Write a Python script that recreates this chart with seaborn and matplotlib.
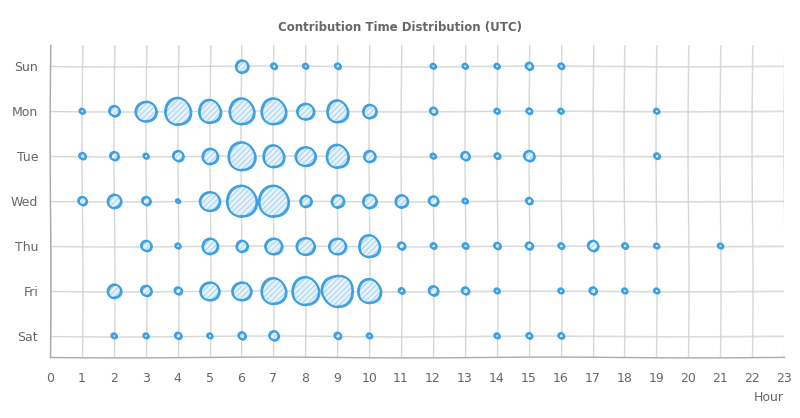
import numpy as np
import pandas as pd
import matplotlib
matplotlib.use("Agg")
import matplotlib.pyplot as plt
import matplotlib.transforms as mtransforms
import seaborn as sns

days = ["Sun", "Mon", "Tue", "Wed", "Thu", "Fri", "Sat"]
hours = list(range(24))

# commits per hour, one list per weekday (hour 0..23)
sun = [0, 0, 0, 0, 0, 0, 16, 3, 2, 3, 0, 0, 2, 2, 2, 5, 3, 0, 0, 0, 0, 0, 0, 0]
mon = [0, 2, 11, 44, 75, 54, 69, 69, 28, 49, 19, 0, 5, 0, 2, 3, 2, 0, 0, 2, 0, 0, 0, 0]
tue = [0, 4, 7, 2, 11, 25, 81, 49, 40, 54, 13, 0, 2, 7, 3, 11, 0, 0, 0, 3, 0, 0, 0, 0]
wed = [0, 7, 19, 7, 1, 40, 100, 100, 13, 16, 19, 16, 9, 2, 0, 4, 0, 0, 0, 0, 0, 0, 0, 0]
thu = [0, 0, 0, 11, 2, 25, 13, 28, 32, 28, 49, 5, 3, 3, 4, 5, 3, 11, 3, 2, 0, 2, 0, 0]
fri = [0, 0, 19, 11, 5, 36, 36, 69, 81, 107, 59, 3, 9, 5, 2, 0, 2, 5, 2, 2, 0, 0, 0, 0]
sat = [0, 0, 2, 2, 4, 2, 5, 9, 0, 4, 2, 0, 0, 0, 2, 3, 3, 0, 0, 0, 0, 0, 0, 0]

rows = []
for i, vals in enumerate([sun, mon, tue, wed, thu, fri, sat]):
    for h, c in zip(hours, vals):
        if c > 0:
            rows.append({"day": i, "hour": h, "count": c})
df = pd.DataFrame(rows)

sns.set_theme(style="white")
plt.rcParams["font.family"] = ["DejaVu Sans"]
plt.rcParams["hatch.linewidth"] = 0.6

blue = "#3a9fe3"
fig, ax = plt.subplots(figsize=(8, 4.18), dpi=100)
fig.subplots_adjust(left=0.0625, right=0.98, bottom=0.146, top=0.892)

# hand drawn grid, two faint strokes each
for h in hours:
    for r in (1.0, 2.0):
        ln = ax.axvline(h, color="#d0d0d0", lw=0.9, alpha=0.6, zorder=0)
        ln.set_sketch_params(0.5, 300, r)
for d in range(len(days)):
    for r in (1.0, 2.0):
        ln = ax.axhline(d, color="#d0d0d0", lw=0.9, alpha=0.6, zorder=0)
        ln.set_sketch_params(0.5, 300, r)

smax = 500
norm = (0, df["count"].max())
sns.scatterplot(data=df, x="hour", y="day", size="count", sizes=(0, smax),
                size_norm=norm, legend=False, ax=ax,
                color="#e6f2fb", edgecolor="#9ccdf1", linewidth=0, hatch="//////",
                zorder=2)
# two outline strokes, the second nudged a little like a pen going round twice
shifts = [(0, 0), (0.8, -0.6)]
for (dx, dy), lw in zip(shifts, (1.4, 0.9)):
    sns.scatterplot(data=df, x="hour", y="day", size="count", sizes=(0, smax),
                    size_norm=norm, legend=False, ax=ax,
                    facecolor="none", edgecolor=blue, linewidth=lw, zorder=3)
    coll = ax.collections[-1]
    coll.set_offset_transform(ax.transData + mtransforms.ScaledTranslation(
        dx / 72, dy / 72, fig.dpi_scale_trans))
    coll.set_sketch_params(0.5, 30, 2)

ax.set_xlim(0, 23)
ax.set_ylim(6.47, -0.47)
ax.set_xticks(hours)
ax.set_yticks(range(len(days)))
ax.set_yticklabels(days)
ax.tick_params(axis="both", colors="#999999", labelcolor="#666666", labelsize=9,
               length=5, width=0.8, direction="out")
ax.tick_params(axis="x", pad=6)
ax.set_xlabel("")
ax.set_ylabel("")
for side in ("top", "right"):
    ax.spines[side].set_visible(False)
for side in ("left", "bottom"):
    ax.spines[side].set_color("#aaaaaa")
    ax.spines[side].set_linewidth(1.0)
    ax.spines[side].set_sketch_params(0.4, 300, 1.5)

fig.text(0.5, 0.935, "Contribution Time Distribution (UTC)", ha="center", va="center",
         fontsize=8.5, fontweight="bold", color="#666666")
fig.text(0.98, 0.05, "Hour", ha="right", va="center", fontsize=9, color="#666666")

fig.savefig("out.png", dpi=100)
